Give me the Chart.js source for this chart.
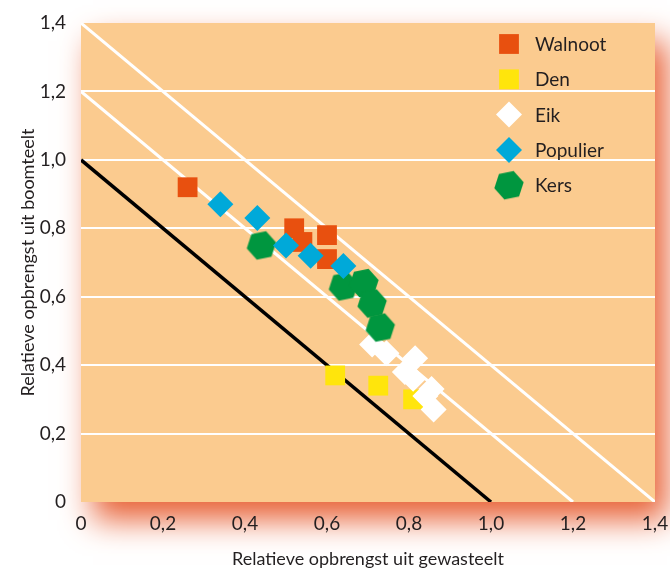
<!DOCTYPE html>
<html>
<head>
<meta charset="utf-8">
<script src="https://cdn.jsdelivr.net/npm/chart.js@4"></script>
<style>
  body { margin: 0; background: #fff; }
  #wrap { width: 670px; height: 572px; position: relative; }
</style>
</head>
<body>
<div id="wrap"><canvas id="chart"></canvas></div>
<script>
// values
const walnootX = [0.26, 0.52, 0.54, 0.60, 0.60];
const walnootY = [0.92, 0.80, 0.76, 0.78, 0.71];
const denX = [0.62, 0.725, 0.81];
const denY = [0.37, 0.34, 0.30];
const eikX = [0.71, 0.745, 0.815, 0.79, 0.81, 0.855, 0.84, 0.86];
const eikY = [0.46, 0.435, 0.42, 0.38, 0.36, 0.33, 0.31, 0.27];
const populierX = [0.34, 0.43, 0.50, 0.56, 0.64];
const populierY = [0.87, 0.83, 0.75, 0.72, 0.69];
const kersX = [0.44, 0.64, 0.69, 0.71, 0.73];
const kersY = [0.75, 0.63, 0.64, 0.58, 0.51];

// reference lines
const grensX = [0, 1.0];
const grensY = [1.0, 0];
const lijn12X = [0, 1.2];
const lijn12Y = [1.2, 0];
const lijn14X = [0, 1.4];
const lijn14Y = [1.4, 0];

const tickLabels = ["0", "0,2", "0,4", "0,6", "0,8", "1,0", "1,2", "1,4"];

const FONT = "Lato, 'Open Sans', sans-serif";
const TEXT = "#231f20";
const BG = "#fbcb8f";

function toPoints(xs, ys) {
  return xs.map((x, i) => ({ x: x, y: ys[i] }));
}

// hexagon marker for Kers
function hexagon(color, r) {
  const c = document.createElement("canvas");
  c.width = c.height = Math.ceil(r * 2 + 2);
  const g = c.getContext("2d");
  const m = c.width / 2;
  g.fillStyle = color;
  g.beginPath();
  for (let i = 0; i < 6; i++) {
    const a = (i * 60 - 12) * Math.PI / 180;
    const px = m + r * Math.cos(a);
    const py = m + r * Math.sin(a);
    if (i === 0) g.moveTo(px, py); else g.lineTo(px, py);
  }
  g.closePath();
  g.fill();
  return c;
}

function tickText(value) {
  const i = Math.round(value / 0.2);
  return tickLabels[i];
}

// orange plot area with a soft red drop shadow
const plotBackground = {
  id: "plotBackground",
  beforeDraw(chart) {
    const { ctx, chartArea: a } = chart;
    ctx.save();
    ctx.shadowColor = "rgba(232, 98, 55, 1)";
    ctx.shadowBlur = 30;
    ctx.shadowOffsetX = 12;
    ctx.shadowOffsetY = 18;
    ctx.fillStyle = BG;
    ctx.fillRect(a.left, a.top, a.right - a.left, a.bottom - a.top);
    ctx.restore();
  },
};

// legend drawn inside the plot, top right
const innerLegend = {
  id: "innerLegend",
  afterDatasetsDraw(chart) {
    const { ctx, chartArea: a } = chart;
    const items = chart.data.datasets.filter((d) => d.inLegend);
    const x = a.right - 146;
    let y = a.top + 21;
    ctx.save();
    ctx.font = "19px " + FONT;
    ctx.textBaseline = "middle";
    ctx.textAlign = "left";
    items.forEach((d) => {
      ctx.fillStyle = d.backgroundColor;
      Chart.helpers.drawPoint(ctx, {
        pointStyle: d.pointStyle,
        radius: d.pointRadius,
        rotation: 0,
        borderWidth: 0,
      }, x, y);
      ctx.fillStyle = TEXT;
      ctx.fillText(d.label, x + 26, y + 1);
      y += 35.3;
    });
    ctx.restore();
  },
};

const lineStyle = {
  type: "line",
  showLine: true,
  pointRadius: 0,
  fill: false,
  borderWidth: 3,
};

const ctx = document.getElementById("chart").getContext("2d");
new Chart(ctx, {
  type: "scatter",
  data: {
    datasets: [
      {
        label: "Walnoot",
        data: toPoints(walnootX, walnootY),
        pointStyle: "rect",
        pointRadius: 14,
        backgroundColor: "#e8500f",
        borderWidth: 0,
        order: 5,
        inLegend: true,
      },
      {
        label: "Den",
        data: toPoints(denX, denY),
        pointStyle: "rect",
        pointRadius: 14,
        backgroundColor: "#ffe50c",
        borderWidth: 0,
        order: 4,
        inLegend: true,
      },
      {
        label: "Eik",
        data: toPoints(eikX, eikY),
        pointStyle: "rectRot",
        pointRadius: 13,
        backgroundColor: "#ffffff",
        borderWidth: 0,
        order: 3,
        inLegend: true,
      },
      {
        label: "Populier",
        data: toPoints(populierX, populierY),
        pointStyle: "rectRot",
        pointRadius: 13,
        backgroundColor: "#00a9d9",
        borderWidth: 0,
        order: 1,
        inLegend: true,
      },
      {
        label: "Kers",
        data: toPoints(kersX, kersY),
        pointStyle: hexagon("#00963f", 15),
        pointRadius: 15,
        backgroundColor: "#00963f",
        borderWidth: 0,
        order: 2,
        inLegend: true,
      },
      Object.assign({}, lineStyle, {
        label: "grens",
        data: toPoints(grensX, grensY),
        borderColor: "#000000",
        borderWidth: 3.5,
        order: 6,
      }),
      Object.assign({}, lineStyle, {
        label: "1,2",
        data: toPoints(lijn12X, lijn12Y),
        borderColor: "#ffffff",
        order: 7,
      }),
      Object.assign({}, lineStyle, {
        label: "1,4",
        data: toPoints(lijn14X, lijn14Y),
        borderColor: "#ffffff",
        order: 8,
      }),
    ],
  },
  options: {
    responsive: true,
    maintainAspectRatio: false,
    animation: false,
    layout: { padding: { top: 23, right: 8, left: 0, bottom: 0 } },
    plugins: {
      legend: { display: false },
      tooltip: { enabled: false },
    },
    scales: {
      x: {
        type: "linear",
        min: 0,
        max: 1.4,
        afterFit(scale) {
          scale.height = 70;
          scale.paddingLeft = 0;
          scale.paddingRight = 0;
        },
        border: { display: false },
        grid: { display: false },
        ticks: {
          stepSize: 0.2,
          padding: 2,
          color: TEXT,
          font: { family: FONT, size: 19 },
          maxRotation: 0,
          callback: tickText,
        },
        title: {
          display: true,
          text: "Relatieve opbrengst uit gewasteelt",
          color: TEXT,
          font: { family: FONT, size: 18 },
          padding: { top: 2, bottom: 2 },
        },
      },
      y: {
        type: "linear",
        min: 0,
        max: 1.4,
        afterFit(scale) {
          scale.width = 81;
          scale.paddingTop = 0;
          scale.paddingBottom = 0;
        },
        border: { display: false },
        grid: {
          drawTicks: false,
          lineWidth: 2,
          color: (c) => (c.tick && (c.tick.value === 0 || c.tick.value > 1.3)) ? "rgba(0,0,0,0)" : "#ffffff",
        },
        ticks: {
          stepSize: 0.2,
          padding: 15,
          color: TEXT,
          font: { family: FONT, size: 19 },
          callback: tickText,
        },
        title: {
          display: true,
          text: "Relatieve opbrengst uit boomteelt",
          color: TEXT,
          font: { family: FONT, size: 18 },
          padding: { top: 17, bottom: 17 },
        },
      },
    },
  },
  plugins: [plotBackground, innerLegend],
});
</script>
</body>
</html>
